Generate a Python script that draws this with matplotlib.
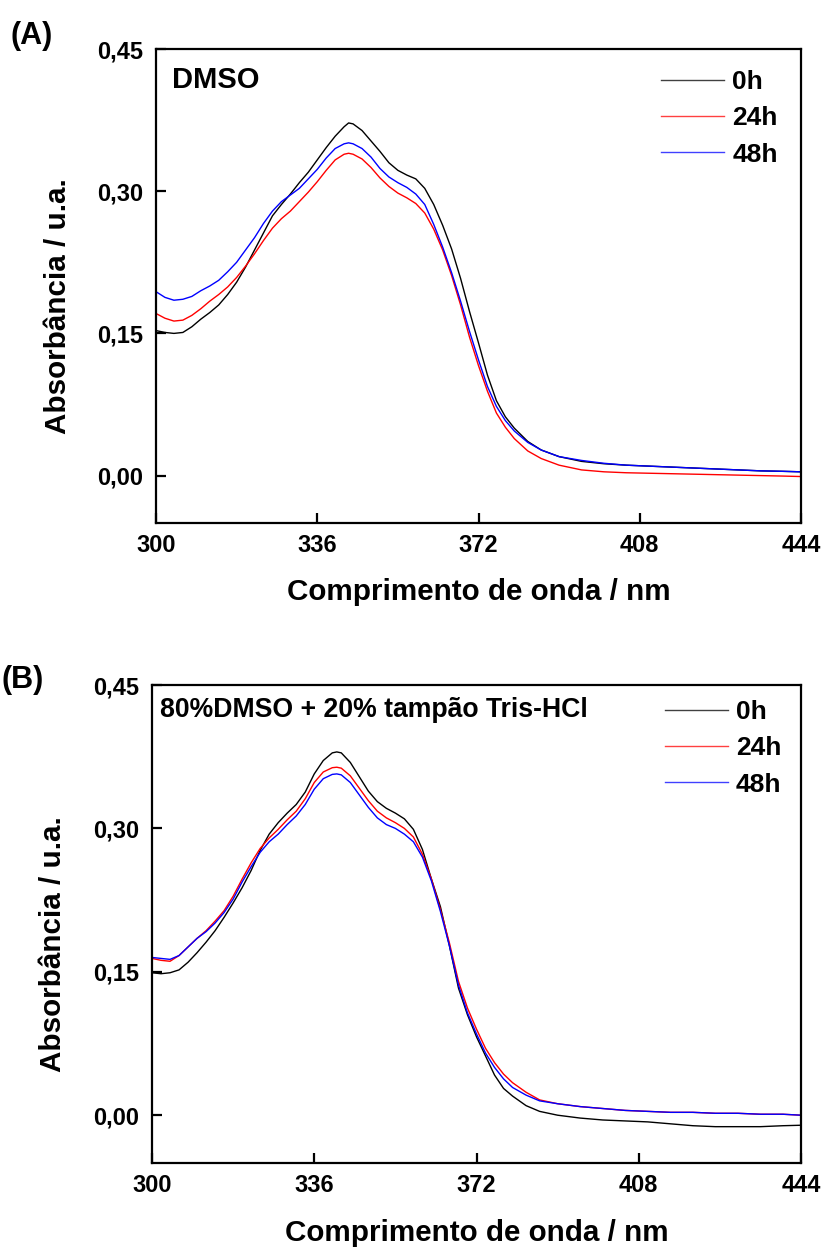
import matplotlib
matplotlib.use("Agg")
import matplotlib.pyplot as plt
from matplotlib.ticker import FuncFormatter

plt.rcParams['font.family'] = ['Liberation Sans', 'DejaVu Sans']
plt.rcParams['font.weight'] = 'bold'

# Wavelengths (nm) and absorbance for panel A (DMSO)
wl_a = [300, 302, 304, 306, 308, 310, 312, 314, 316, 318, 320, 322, 324, 326, 328, 330,
        332, 334, 336, 338, 340, 342, 343, 344, 346, 348, 350, 352, 354, 356, 358, 360,
        362, 364, 366, 368, 370, 372, 374, 376, 378, 380, 383, 386, 390, 395, 400, 405,
        410, 415, 420, 425, 430, 435, 440, 444]
abs_a_0h = [0.153, 0.151, 0.150, 0.151, 0.157, 0.165, 0.172, 0.180, 0.191, 0.204, 0.220,
            0.238, 0.256, 0.274, 0.286, 0.297, 0.309, 0.320, 0.333, 0.346, 0.358, 0.368,
            0.372,
            0.371, 0.364, 0.353, 0.342, 0.330, 0.322, 0.317, 0.313, 0.303, 0.286, 0.264,
            0.239, 0.208, 0.173, 0.140, 0.106, 0.079, 0.062, 0.050,
            0.036, 0.027, 0.020,
            0.015, 0.0125, 0.011, 0.010, 0.009, 0.008, 0.007, 0.006, 0.005, 0.0045,
            0.004]
abs_a_24h = [0.171, 0.166, 0.163, 0.164, 0.169, 0.176, 0.184, 0.191, 0.199, 0.209, 0.221,
             0.234, 0.248, 0.261, 0.271, 0.279, 0.289, 0.299, 0.310, 0.322, 0.333, 0.339,
             0.340,
             0.339, 0.334, 0.325, 0.314, 0.305, 0.298, 0.293, 0.287, 0.277, 0.260, 0.238,
             0.211, 0.180, 0.146, 0.116, 0.089, 0.066, 0.051, 0.039,
             0.026, 0.018, 0.011,
             0.006, 0.004, 0.003, 0.0025, 0.002, 0.0015, 0.001, 0.0005, 0.0, -0.0005,
             -0.001]
abs_a_48h = [0.194, 0.188, 0.185, 0.186, 0.189, 0.195, 0.200, 0.206, 0.215, 0.225, 0.238,
             0.251, 0.266, 0.279, 0.289, 0.296, 0.303, 0.313, 0.323, 0.335, 0.345, 0.350,
             0.351,
             0.350, 0.345, 0.336, 0.324, 0.315, 0.309, 0.304, 0.297, 0.286, 0.265, 0.241,
             0.214, 0.184, 0.152, 0.122, 0.094, 0.073, 0.058, 0.047,
             0.035, 0.027, 0.020,
             0.016, 0.013, 0.011, 0.010, 0.009, 0.008, 0.007, 0.006, 0.005, 0.0045,
             0.004]

# Wavelengths (nm) and absorbance for panel B (80% DMSO + 20% Tris-HCl buffer)
wl_b = [300, 302, 304, 306, 308, 310, 312, 314, 316, 318, 320, 322, 324, 326, 328, 330,
        332, 334, 336, 338, 340, 341, 342, 344, 346, 348, 350, 352, 354, 356, 358, 360,
        362, 364, 366, 368, 370, 372, 374, 376, 378, 380, 383, 386, 390, 395, 400, 405,
        410, 415, 420, 425, 430, 435, 440, 444]
abs_b_0h = [0.149, 0.148, 0.149, 0.152, 0.160, 0.170, 0.181, 0.193, 0.207, 0.222, 0.238,
            0.256, 0.277, 0.294, 0.306, 0.316, 0.325, 0.338, 0.357, 0.371, 0.379,
            0.380,
            0.379, 0.369, 0.354, 0.339, 0.328, 0.321, 0.316, 0.310, 0.299, 0.278, 0.247,
            0.218, 0.177, 0.133, 0.105, 0.082, 0.062, 0.042, 0.028, 0.020,
            0.010, 0.004, 0.000,
            -0.003, -0.005, -0.006, -0.007, -0.009, -0.011, -0.012, -0.012, -0.012, -0.011,
            -0.0105]
abs_b_24h = [0.164, 0.162, 0.161, 0.167, 0.176, 0.185, 0.193, 0.203, 0.214, 0.229, 0.247,
             0.264, 0.279, 0.290, 0.299, 0.309, 0.318, 0.331, 0.348, 0.359, 0.3635,
             0.364,
             0.363, 0.355, 0.342, 0.329, 0.318, 0.311, 0.306, 0.300, 0.291, 0.273, 0.247,
             0.215, 0.180, 0.140, 0.112, 0.090, 0.070, 0.055, 0.043, 0.034,
             0.024, 0.016, 0.012,
             0.009, 0.007, 0.005, 0.004, 0.003, 0.003, 0.002, 0.002, 0.001, 0.001,
             0.000]
abs_b_48h = [0.165, 0.164, 0.163, 0.167, 0.176, 0.185, 0.192, 0.201, 0.212, 0.226, 0.244,
             0.260, 0.275, 0.286, 0.294, 0.304, 0.313, 0.325, 0.341, 0.352, 0.3565,
             0.357,
             0.356, 0.348, 0.335, 0.322, 0.311, 0.304, 0.300, 0.294, 0.286, 0.270, 0.245,
             0.213, 0.177, 0.136, 0.107, 0.085, 0.065, 0.050, 0.038, 0.029,
             0.021, 0.015, 0.012,
             0.009, 0.007, 0.005, 0.004, 0.003, 0.003, 0.002, 0.002, 0.001, 0.001,
             0.000]

series_labels = ['0h', '24h', '48h']
series_colors = ['#000000', '#ff0000', '#0000ff']
x_ticks = [300, 336, 372, 408, 444]
y_ticks = [0.00, 0.15, 0.30, 0.45]

fig = plt.figure(figsize=(8.26, 12.49), dpi=100)
W, H = 826, 1249


def px_axes(left, top, right, bottom):
    return fig.add_axes([left / W, 1 - bottom / H, (right - left) / W, (bottom - top) / H])


ax_a = px_axes(156, 49, 801, 523)
ax_b = px_axes(152, 685, 801, 1163)

comma = FuncFormatter(lambda v, p: f"{v:.2f}".replace('.', ','))

panels = [
    (ax_a, wl_a, [abs_a_0h, abs_a_24h, abs_a_48h], 'DMSO', 21, (0.025, 0.935),
     (0.783, 0.956), (-0.152, 0.458)),
    (ax_b, wl_b, [abs_b_0h, abs_b_24h, abs_b_48h], '80%DMSO + 20% tampão Tris-HCl', 19.2,
     (0.012, 0.948), (0.790, 0.969), (-0.1525, 0.458)),
]

for ax, wl, curves, title, tsize, tpos, legpos, ylpos in panels:
    for vals, lab, col in zip(curves, series_labels, series_colors):
        ax.plot(wl, vals, color=col, lw=1.0, label=lab)
    ax.set_xlim(300, 444)
    ax.set_ylim(-0.05, 0.45)
    ax.set_xticks(x_ticks)
    ax.set_yticks(y_ticks)
    ax.yaxis.set_major_formatter(comma)
    for s in ax.spines.values():
        s.set_linewidth(1.6)
    ax.tick_params(direction='in', length=7, width=1.6, labelsize=17)
    ax.tick_params(axis='y', pad=9)
    ax.tick_params(axis='x', pad=8)
    for lbl in ax.get_xticklabels() + ax.get_yticklabels():
        lbl.set_fontweight('bold')
    ax.set_xlabel('Comprimento de onda / nm', fontsize=21.3, fontweight='bold')
    ax.set_ylabel('Absorbância / u.a.', fontsize=21.3, fontweight='bold')
    ax.xaxis.set_label_coords(0.5, -0.146)
    ax.xaxis.label.set_va('center')
    ax.yaxis.set_label_coords(*ylpos)
    ax.yaxis.label.set_va('center')
    ax.text(tpos[0], tpos[1], title, transform=ax.transAxes, fontsize=tsize,
            fontweight='bold', ha='left', va='center')
    leg = ax.legend(loc='upper left', bbox_to_anchor=legpos, frameon=False,
                    fontsize=19, handlelength=2.4, handletextpad=0.3,
                    labelspacing=0.47, borderpad=0, borderaxespad=0)
    for t in leg.get_texts():
        t.set_fontweight('bold')
    for h in leg.get_lines():
        h.set_linewidth(1.0)
        h.set_alpha(0.75)

fig.text(32 / W, 1 - 36 / H, '(A)', fontsize=22, fontweight='bold', ha='center', va='center')
fig.text(23 / W, 1 - 680 / H, '(B)', fontsize=22, fontweight='bold', ha='center', va='center')

fig.savefig('out.png', dpi=100)
